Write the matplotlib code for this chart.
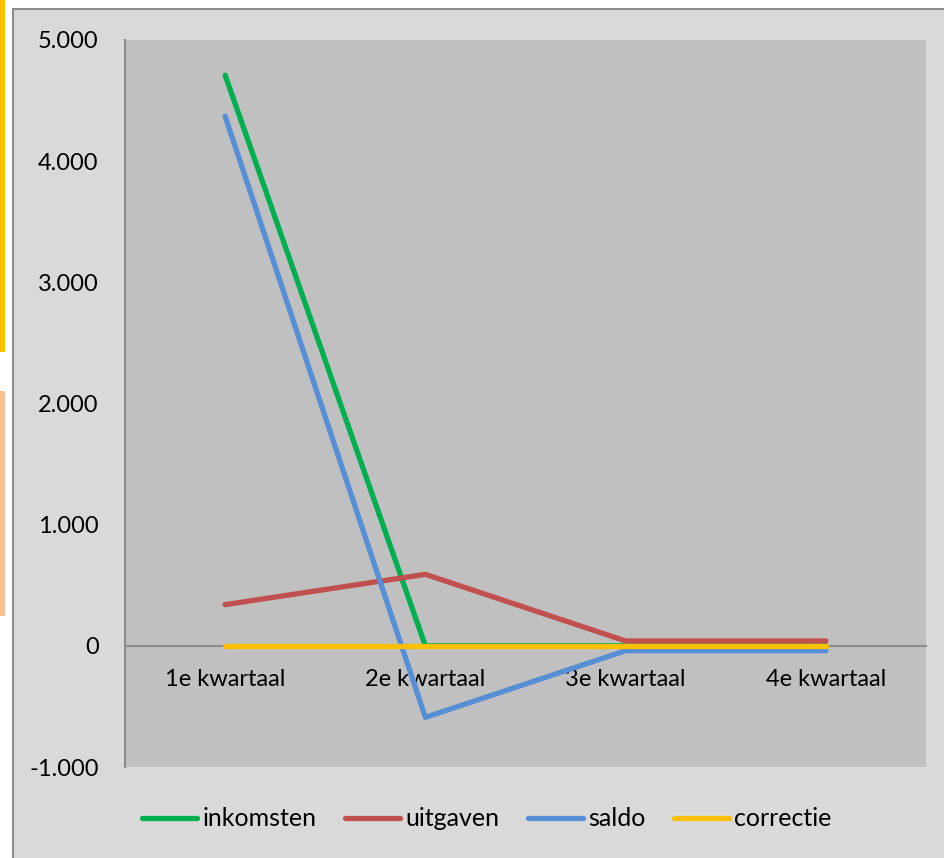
import matplotlib.pyplot as plt
from matplotlib.patches import Rectangle
from matplotlib.ticker import FuncFormatter

# data
kwartalen = ["1e kwartaal", "2e kwartaal", "3e kwartaal", "4e kwartaal"]
inkomsten = [4710, 0, 0, 0]
uitgaven = [340, 590, 40, 40]
saldo = [4370, -590, -40, -40]
correctie = [0, 0, 0, 0]
y_ticks = [-1000, 0, 1000, 2000, 3000, 4000, 5000]

W, H = 945, 858
plt.rcParams['font.family'] = ['Lato', 'DejaVu Sans']

fig = plt.figure(figsize=(W / 100, H / 100), dpi=100)
fig.patch.set_facecolor("white")

# chart frame and the coloured strips at the left edge
def px_rect(x0, y0, x1, y1, **kw):
	fig.patches.append(Rectangle((x0 / W, 1 - y1 / H), (x1 - x0) / W, (y1 - y0) / H,
		transform=fig.transFigure, figure=fig, zorder=-5, **kw))

px_rect(13, 9, W + 5, H + 5, facecolor="#d9d9d9", edgecolor="#8c8c8c", linewidth=1.5)
px_rect(0, 0, 5, 352, facecolor="#ffc000", edgecolor="none")
px_rect(0, 391, 5, 616, facecolor="#f9c090", edgecolor="none")

ax = fig.add_axes([125 / W, 1 - 767 / H, (926 - 125) / W, (767 - 40) / H])
ax.set_facecolor("#c0c0c0")

x = range(len(kwartalen))
lw = 3.8
ax.plot(x, inkomsten, color="#00b050", lw=lw, solid_capstyle="round", zorder=3, label="inkomsten")
ax.plot(x, uitgaven, color="#c0504d", lw=lw, solid_capstyle="round", zorder=3, label="uitgaven")
ax.plot(x, saldo, color="#558ed5", lw=lw, solid_capstyle="round", zorder=3, label="saldo")
ax.plot(x, correctie, color="#ffc000", lw=lw, solid_capstyle="round", zorder=3, label="correctie")

ax.set_xlim(-0.5, 3.5)
ax.set_ylim(-1000, 5000)
ax.set_yticks(y_ticks)
ax.yaxis.set_major_formatter(FuncFormatter(lambda v, p: f"{int(v):,}".replace(",", ".")))
ax.set_xticks(list(x))
ax.set_xticklabels(kwartalen)

for s in ["top", "right"]:
	ax.spines[s].set_visible(False)
ax.spines["bottom"].set_position(("data", 0))
ax.spines["bottom"].set_color("#8c8c8c")
ax.spines["bottom"].set_linewidth(1.5)
ax.spines["left"].set_color("#8c8c8c")
ax.spines["left"].set_linewidth(1.5)
ax.tick_params(axis="both", length=0, labelsize=17, colors="black")
ax.tick_params(axis="y", pad=19)
ax.tick_params(axis="x", pad=17)

fig.legend(loc="center", bbox_to_anchor=(487 / W, 1 - 819 / H), ncol=4, frameon=False,
	fontsize=18, handlelength=2.2, handletextpad=0.2, columnspacing=1.15)

fig.savefig("out.png", dpi=100)
